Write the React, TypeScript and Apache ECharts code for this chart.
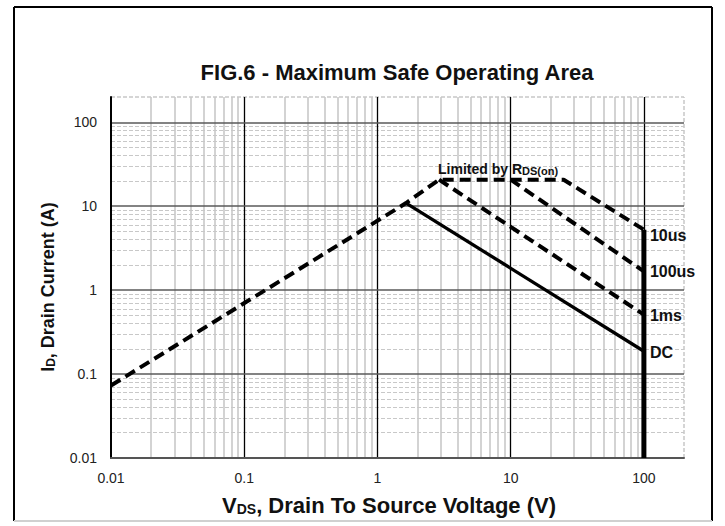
import React, { useEffect, useRef } from 'react';
import * as echarts from 'echarts';

// ---- data ----
const X_TICKS = [0.01, 0.1, 1, 10, 100];
const X_TICK_LABELS = ['0.01', '0.1', '1', '10', '100'];
const Y_TICKS = [0.01, 0.1, 1, 10, 100];
const Y_TICK_LABELS = ['0.01', '0.1', '1', '10', '100'];
const X_MIN = 0.01;
const X_MAX = 200;
const Y_MIN = 0.01;
const Y_MAX = 200;
const MINOR_MULTS = [2, 3, 4, 5, 6, 7, 8, 9];
const MINOR_DECADES = [0.01, 0.1, 1, 10];

// Limited by RDS(on) + 10us boundary
const RDS_10US = [
  [0.01, 0.073],
  [1.64, 10.9],
  [2.9, 20.7],
  [25, 20.7],
  [100, 5.25],
];
const US100 = [
  [10, 20.7],
  [100, 1.67],
];
const MS1 = [
  [2.9, 20.7],
  [100, 0.51],
];
const DC = [
  [1.64, 10.9],
  [100, 0.187],
];
const V_LIMIT = [
  [100, 5.25],
  [100, 0.01],
];
const CURVE_LABELS = ['10us', '100us', '1ms', 'DC'];

const FONT = '"Liberation Sans", Arial, Helvetica, sans-serif';

function tickLabel(v: number, ticks: number[], labels: string[]) {
  for (let i = 0; i < ticks.length; i++) {
    if (Math.abs(v - ticks[i]) / ticks[i] < 1e-6) return labels[i];
  }
  return '';
}

export default function App() {
  const ref = useRef<HTMLDivElement>(null);

  useEffect(() => {
    if (!ref.current) return;
    const chart = echarts.init(ref.current, undefined, { renderer: 'svg' });

    const minorVals: number[] = [];
    MINOR_DECADES.forEach((d) => MINOR_MULTS.forEach((m) => minorVals.push(+(d * m).toPrecision(6))));

    const gridLines: any[] = [];
    // minor verticals (solid light gray)
    minorVals.forEach((v) =>
      gridLines.push({ xAxis: v, lineStyle: { color: '#c4c4c4', width: 1.5, type: 'solid' } })
    );
    // minor horizontals (dashed light gray)
    minorVals.forEach((v) =>
      gridLines.push({ yAxis: v, lineStyle: { color: '#c8c8c8', width: 1.2, type: [4, 2] } })
    );
    // edge at max (dashed gray)
    gridLines.push({ xAxis: X_MAX, lineStyle: { color: '#c8c8c8', width: 1.5, type: [4, 2] } });
    gridLines.push({ yAxis: Y_MAX, lineStyle: { color: '#c8c8c8', width: 1.5, type: [4, 2] } });
    // majors
    X_TICKS.slice(1).forEach((v) =>
      gridLines.push({ xAxis: v, lineStyle: { color: '#000', width: 1.3, type: 'solid' } })
    );
    Y_TICKS.slice(1).forEach((v) =>
      gridLines.push({ yAxis: v, lineStyle: { color: '#5a5a5a', width: 1.6, type: 'solid' } })
    );

    const dash = [11, 6];
    const labelStyle = {
      show: true,
      fontFamily: FONT,
      fontWeight: 'bold',
      fontSize: 16,
      color: '#111',
      distance: 6,
    };

    chart.setOption({
      animation: false,
      backgroundColor: '#fff',
      grid: { left: 111, top: 97, width: 573, height: 361, containLabel: false },
      xAxis: {
        type: 'log',
        logBase: 10,
        min: X_MIN,
        max: X_MAX,
        z: 2,
        axisLine: { show: true, onZero: false, lineStyle: { color: '#555', width: 2 } },
        axisTick: { show: false },
        splitLine: { show: false },
        minorTick: { show: false },
        axisLabel: {
          formatter: (v: number) => tickLabel(v, X_TICKS, X_TICK_LABELS),
          margin: 13,
          fontSize: 14,
          fontFamily: FONT,
          color: '#222',
          showMaxLabel: true,
          showMinLabel: true,
        },
      },
      yAxis: {
        type: 'log',
        logBase: 10,
        min: Y_MIN,
        max: Y_MAX,
        z: 2,
        axisLine: { show: true, onZero: false, lineStyle: { color: '#000', width: 2 } },
        axisTick: { show: false },
        splitLine: { show: false },
        minorTick: { show: false },
        axisLabel: {
          formatter: (v: number) => tickLabel(v, Y_TICKS, Y_TICK_LABELS),
          margin: 14,
          fontSize: 14,
          fontFamily: FONT,
          color: '#222',
        },
      },
      series: [
        {
          type: 'line',
          name: 'grid',
          z: 1,
          data: [[1, 1]],
          showSymbol: false,
          symbol: 'none',
          lineStyle: { width: 0, opacity: 0 },
          silent: true,
          markLine: {
            z: 1,
            silent: true,
            symbol: ['none', 'none'],
            label: { show: false },
            animation: false,
            data: gridLines,
          },
        },
        {
          type: 'line',
          name: CURVE_LABELS[0],
          z: 5,
          data: RDS_10US,
          symbol: 'none',
          lineStyle: { color: '#000', width: 4, type: dash, cap: 'butt' },
          endLabel: { ...labelStyle, formatter: CURVE_LABELS[0], offset: [0, 6] },
        },
        {
          type: 'line',
          name: CURVE_LABELS[1],
          z: 5,
          data: US100,
          symbol: 'none',
          lineStyle: { color: '#000', width: 4, type: dash, cap: 'butt' },
          endLabel: { ...labelStyle, formatter: CURVE_LABELS[1], offset: [0, 0] },
        },
        {
          type: 'line',
          name: CURVE_LABELS[2],
          z: 5,
          data: MS1,
          symbol: 'none',
          lineStyle: { color: '#000', width: 4, type: dash, cap: 'butt' },
          endLabel: { ...labelStyle, formatter: CURVE_LABELS[2], offset: [0, 1] },
        },
        {
          type: 'line',
          name: CURVE_LABELS[3],
          z: 5,
          data: DC,
          symbol: 'none',
          lineStyle: { color: '#000', width: 3.3 },
          endLabel: { ...labelStyle, formatter: CURVE_LABELS[3], offset: [0, 1] },
        },
        {
          type: 'line',
          name: 'vlimit',
          z: 6,
          data: V_LIMIT,
          symbol: 'none',
          lineStyle: { color: '#000', width: 5 },
        },
      ],
      graphic: [
        { type: 'line', shape: { x1: 14, y1: 7, x2: 712, y2: 7 }, style: { stroke: '#000', lineWidth: 2 } },
        { type: 'line', shape: { x1: 14, y1: 7, x2: 14, y2: 521 }, style: { stroke: '#000', lineWidth: 2 } },
        { type: 'line', shape: { x1: 712, y1: 7, x2: 712, y2: 521 }, style: { stroke: '#000', lineWidth: 2 } },
        { type: 'line', shape: { x1: 14, y1: 521, x2: 712, y2: 521 }, style: { stroke: '#d0d0d0', lineWidth: 2 } },
        {
          type: 'text',
          x: 397,
          y: 72,
          style: {
            text: 'FIG.6 - Maximum Safe Operating Area',
            font: `bold 22px ${FONT}`,
            fill: '#111',
            textAlign: 'center',
            textVerticalAlign: 'middle',
          },
        },
        {
          type: 'text',
          x: 438,
          y: 167,
          z: 10,
          style: {
            text: '{b|Limited by R}{s|DS(on)}',
            fill: '#111',
            textAlign: 'left',
            textVerticalAlign: 'middle',
            rich: {
              b: { fontFamily: FONT, fontWeight: 'bold', fontSize: 14, lineHeight: 18, verticalAlign: 'bottom' },
              s: { fontFamily: FONT, fontWeight: 'bold', fontSize: 11, lineHeight: 8, verticalAlign: 'bottom' },
            },
          },
        },
        {
          type: 'text',
          x: 389,
          y: 503,
          style: {
            text: '{b|V}{s|DS}{b|, Drain To Source Voltage (V)}',
            fill: '#111',
            textAlign: 'center',
            textVerticalAlign: 'middle',
            rich: {
              b: { fontFamily: FONT, fontWeight: 'bold', fontSize: 22, lineHeight: 26, verticalAlign: 'bottom' },
              s: { fontFamily: FONT, fontWeight: 'bold', fontSize: 14, lineHeight: 12, verticalAlign: 'bottom' },
            },
          },
        },
        {
          type: 'text',
          x: 46,
          y: 287,
          rotation: Math.PI / 2,
          style: {
            text: '{b|I}{s|D}{b|, Drain Current (A)}',
            fill: '#111',
            textAlign: 'center',
            textVerticalAlign: 'middle',
            rich: {
              b: { fontFamily: FONT, fontWeight: 'bold', fontSize: 18, lineHeight: 22, verticalAlign: 'bottom' },
              s: { fontFamily: FONT, fontWeight: 'bold', fontSize: 12, lineHeight: 10, verticalAlign: 'bottom' },
            },
          },
        },
      ],
    });

    return () => chart.dispose();
  }, []);

  return (
    <div
      ref={ref}
      style={{ position: 'fixed', left: 0, top: 0, width: 725, height: 526, background: '#fff' }}
    />
  );
}
